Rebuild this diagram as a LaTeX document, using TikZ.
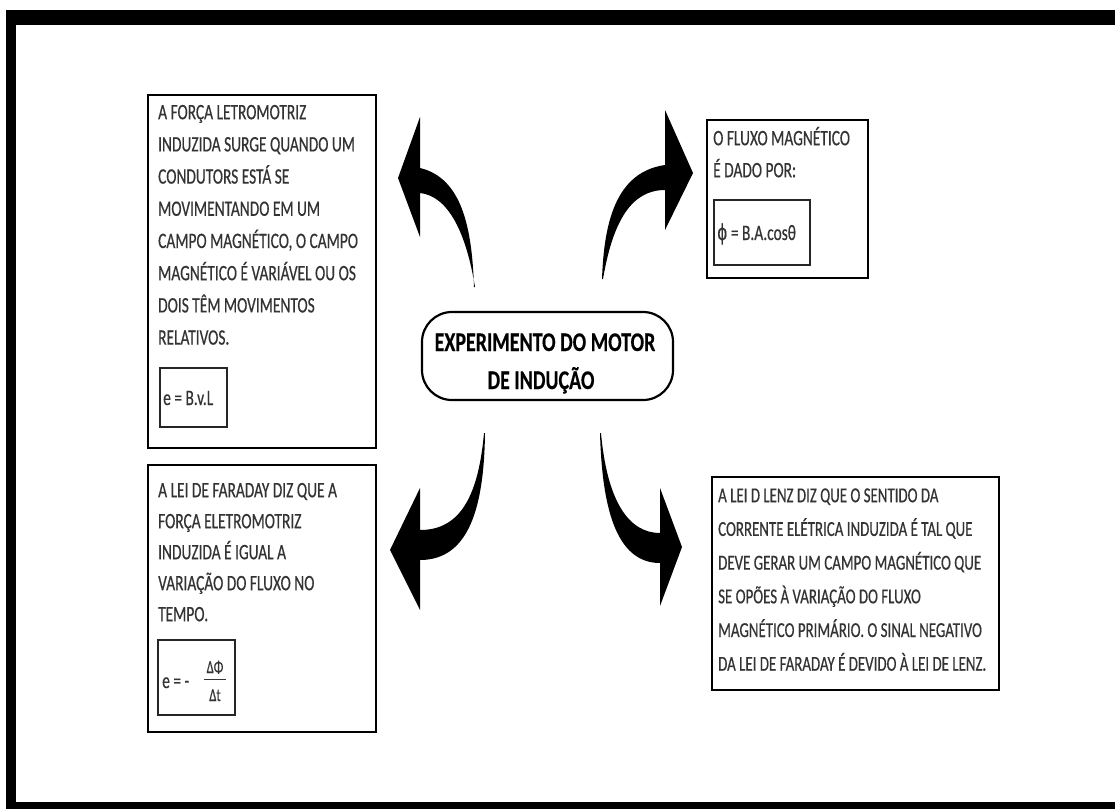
\documentclass[tikz,border=0pt]{standalone}
\usepackage{fontspec}
\setmainfont{Carlito}[FakeStretch=0.70, FakeBold=0.45]
\newfontfamily\titlef{Carlito}[FakeStretch=0.74, FakeBold=0.3]
\newfontfamily\symf{DejaVu Sans}[FakeStretch=0.7, FakeBold=0.4]
\begin{document}
\begin{tikzpicture}[x=1pt,y=-1pt,
  box/.style={draw=black, line width=2.8pt, fill=white, inner sep=0pt},
  fbox/.style={draw=black!85, line width=1.4pt, inner sep=0pt},
  roundbox/.style={draw=black, line width=2.2pt, fill=white, inner sep=0pt, rounded corners=30pt},
  bodytxt/.style={anchor=north west, inner sep=0pt, align=left, text=black!80},
  formtxt/.style={anchor=base west, inner sep=0pt, text=black!80, font=\fontsize{22}{25}\selectfont},
  fractxt/.style={anchor=base, inner sep=0pt, text=black!80, font=\fontsize{18}{20}\selectfont},
  titletxt/.style={anchor=base, inner sep=0pt, font=\titlef\bfseries\fontsize{27}{32}\selectfont},
  bigarrow/.style={fill=black}
]
\useasboundingbox (0,0) rectangle (1115,809);
% outer frame
\fill (6,10) rectangle (1115,25);
\fill (6,10) rectangle (16,809);
\fill (6,802) rectangle (1115,809);

% arrows
\fill[bigarrow] (474,287) .. controls (472,228) and (462,178) .. (420,168) -- (420,117) -- (398,178) -- (420,237) -- (420,193) .. controls (448,196) and (466,232) .. (475,287) -- cycle;
\fill[bigarrow] (602,279) .. controls (604,222) and (616,172) .. (665,165) -- (665,110) -- (693,173) -- (665,230) -- (665,190) .. controls (632,190) and (613,220) .. (603,279) -- cycle;
\fill[bigarrow] (485,433) .. controls (484,505) and (470,560) .. (420,560) -- (420,610) -- (390,550) -- (420,488) -- (420,530) .. controls (458,530) and (478,500) .. (484,433) -- cycle;
\fill[bigarrow] (600,433) .. controls (602,505) and (615,563) .. (660,563) -- (660,606) -- (682,547) -- (660,488) -- (660,533) .. controls (628,533) and (607,500) .. (601,433) -- cycle;

% top-left box
\node[box, minimum width=228, minimum height=353] (tl) at (262,271.5) {};
\node[bodytxt, text width=225pt, font=\fontsize{22}{32.2}\selectfont] (tltxt) at (158,99)
 {\spaceskip=0pt\xspaceskip=0pt\rule{0pt}{20pt}A FORÇA LETROMOTRIZ\\ INDUZIDA SURGE QUANDO UM\\ CONDUTORS ESTÁ SE\\ MOVIMENTANDO EM UM\\ CAMPO MAGNÉTICO, O CAMPO\\ MAGNÉTICO É VARIÁVEL OU OS\\ DOIS TÊM MOVIMENTOS\\ RELATIVOS.};
\node[fbox, minimum width=67, minimum height=59] (tlf) at (193.5,397.5) {};
\node[formtxt] (tlform) at (163,405) {e = B.v.L};

% top-right box
\node[box, minimum width=161, minimum height=158] (tr) at (787.5,199) {};
\node[bodytxt, text width=160pt, font=\fontsize{22}{32}\selectfont] (trtxt) at (713,125)
 {\spaceskip=0pt\xspaceskip=0pt\rule{0pt}{20pt}O FLUXO MAGNÉTICO\\ É DADO POR:};
\node[fbox, minimum width=96, minimum height=65] (trf) at (762,232.5) {};
\node[formtxt] (trform) at (717,240) {{\symf ϕ} = B.A.cosθ};

% centre
\node[roundbox, minimum width=251, minimum height=88] (c) at (547.5,356) {};
\node[titletxt] (c1) at (545,351) {EXPERIMENTO DO MOTOR};
\node[titletxt] (c2) at (541,389) {DE INDUÇÃO};

% bottom-left box
\node[box, minimum width=228, minimum height=267] (bl) at (262,598.5) {};
\node[bodytxt, text width=225pt, font=\fontsize{22}{31}\selectfont] (bltxt) at (158,477)
 {\spaceskip=0pt\xspaceskip=0pt\rule{0pt}{20pt}A LEI DE FARADAY DIZ QUE A\\ FORÇA ELETROMOTRIZ\\ INDUZIDA É IGUAL A\\ VARIAÇÃO DO FLUXO NO\\ TEMPO.};
\node[fbox, minimum width=77, minimum height=75] (blf) at (196.5,677.5) {};
\node[formtxt] (blform) at (162,688) {e = -};
\node[fractxt] (blnum) at (215,673) {ΔΦ};
\node[fractxt] (blden) at (215,701) {Δt};
\draw[line width=1pt, black!80] ([xshift=-2pt]blnum.south west |- 0,679) -- ([xshift=2pt]blnum.south east |- 0,679);

% bottom-right box
\node[box, minimum width=287, minimum height=213] (br) at (855.5,583.5) {};
\node[bodytxt, text width=300pt, font=\fontsize{21.3}{33.7}\selectfont] (brtxt) at (718,482)
 {\spaceskip=0pt\xspaceskip=0pt\rule{0pt}{20pt}A LEI D LENZ DIZ QUE O SENTIDO DA\\ CORRENTE ELÉTRICA INDUZIDA É TAL QUE\\ DEVE GERAR UM CAMPO MAGNÉTICO QUE\\ SE OPÕES À VARIAÇÃO DO FLUXO\\ MAGNÉTICO PRIMÁRIO. O SINAL NEGATIVO\\ DA LEI DE FARADAY É DEVIDO À LEI DE LENZ.};
\end{tikzpicture}
\end{document}
